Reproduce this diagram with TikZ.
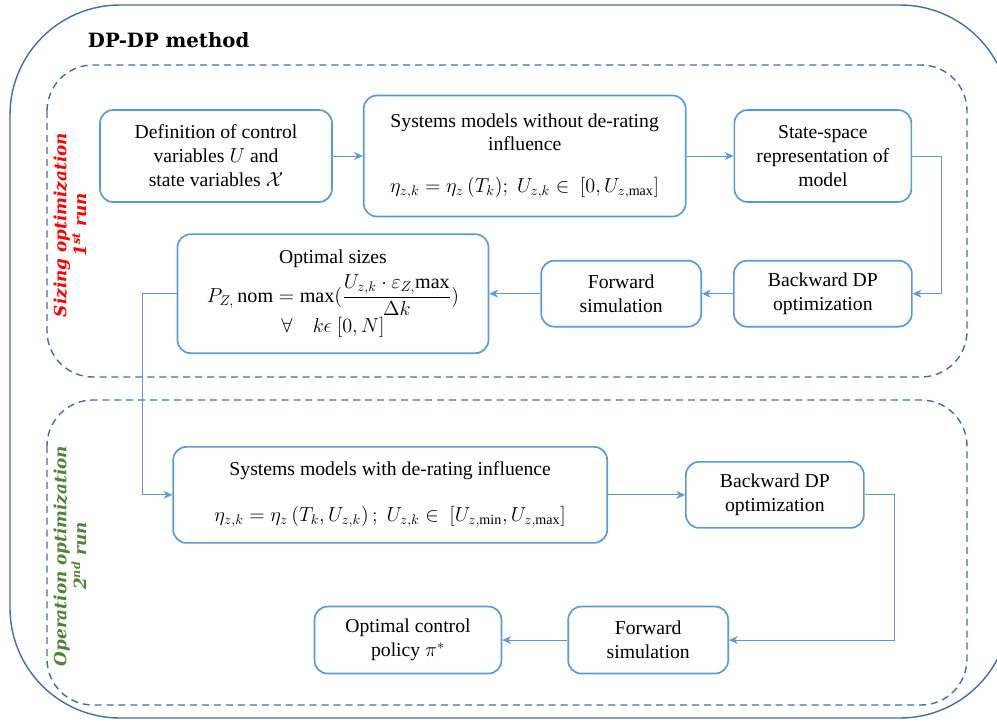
\documentclass[tikz,border=0pt]{standalone}
\usepackage{fontspec}
\setmainfont{Liberation Serif}
\newfontfamily\bodyfont{Liberation Serif}
\newfontfamily\slabfont{DejaVu Serif}
\usepackage{xcolor}
\usepackage{tikz}
\usetikzlibrary{positioning, arrows.meta}

\definecolor{boxblue}{HTML}{5B9BD5}
\definecolor{frameblue}{HTML}{41719C}
\definecolor{runred}{HTML}{FF0000}
\definecolor{rungreen}{HTML}{538135}

\newcommand{\eqsize}{\fontsize{14.3}{17}\selectfont}

\begin{document}
\begin{tikzpicture}[
    node distance=1cm and 1cm,
    box/.style={
        draw=boxblue,
        line width=1.2pt,
        rounded corners=0.33cm,
        fill=white,
        align=center,
        inner sep=2pt,
        font=\bodyfont\fontsize{14}{17}\selectfont
    },
    arrow/.style={-{Stealth[length=2.2mm,width=2mm]}, draw=boxblue, line width=0.6pt},
    frame/.style={draw=frameblue, line width=1pt, dash pattern=on 5pt off 3.5pt, rounded corners=1.15cm},
    runlbl/.style={rotate=90, align=center, font=\slabfont\bfseries\itshape\fontsize{12}{14}\selectfont}
]

\useasboundingbox (0,0) rectangle (24.925,-18.125);
\clip (0,0) rectangle (24.925,-18.125);

% Frames 
\draw[draw=frameblue, line width=1pt, rounded corners=2.75cm] (0.25,-0.125) rectangle (25.25,-17.95);
\draw[frame] (1.175,-1.625) rectangle (24.175,-9.425);
\draw[frame] (1.175,-10.0) rectangle (24.175,-17.625);

\node[anchor=west, font=\slabfont\bfseries\fontsize{14}{16}\selectfont] (title) at (2.075,-1.0) {DP-DP method};

\node[runlbl, text=runred] (sizinglbl) at (1.75,-5.625) {Sizing optimization\\1\textsuperscript{st} run};
\node[runlbl, text=rungreen] (operlbl) at (1.75,-13.9) {Operation optimization\\2\textsuperscript{nd} run};

% First run (sizing) 
\node[box, minimum width=5.8cm, minimum height=2.3cm] (def) at (5.4,-3.9) {Definition of control\\
variables {\eqsize$U$} and\\
state variables {\eqsize$\mathcal{X}$}};

\node[box, minimum width=8.05cm, minimum height=3.025cm] (sysA) [right=0.75cm of def] {Systems models without de-rating\\
influence\\[0.45cm]
{\eqsize$\eta_{z,k} = \eta_z\,(T_k);\; U_{z,k} \in\ [0, U_{z,\max}]$}};

\node[box, minimum width=4.425cm, minimum height=2.3cm] (state) [right=1.175cm of sysA] {State-space\\
representation of\\
model};

\node[box, minimum width=4.45cm, minimum height=1.65cm] (bwdA) [below=1.425cm of state] {Backward DP\\
optimization};

\node[box, minimum width=4.0cm, minimum height=1.65cm] (fwdA) [left=0.775cm of bwdA] {Forward\\
simulation};

\node[box, minimum width=7.775cm, minimum height=2.975cm] (optsize) [left=1.275cm of fwdA] {Optimal sizes\\[0.14cm]
{\eqsize$P_{Z,}\,\mathrm{nom} = \max(\displaystyle\frac{U_{z,k}\cdot\varepsilon_{Z,}\mathrm{max}}{\Delta k})$}\\
{\eqsize$\forall\quad k\epsilon\ [0,N]$}};

\draw[arrow] (def) -- (sysA);
\draw[arrow] (sysA) -- (state);
\draw[arrow] (state.east) -- ++(0.725,0) |- (bwdA.east);
\draw[arrow] (bwdA) -- (fwdA);
\draw[arrow] (fwdA) -- (optsize);

% Second run (operation) 
\node[box, minimum width=10.85cm, minimum height=2.4cm] (sysB) [below right=2.3cm and -7.925cm of optsize] {Systems models with de-rating influence\\[0.55cm]
{\eqsize$\eta_{z,k} = \eta_z\left(T_k, U_{z,k}\right);\; U_{z,k} \in\ [U_{z,\min}, U_{z,\max}]$}};

\node[box, minimum width=4.45cm, minimum height=1.65cm] (bwdB) [right=1.925cm of sysB] {Backward DP\\
optimization};

\node[box, minimum width=4.0cm, minimum height=1.675cm] (fwdB) [below left=1.925cm and -1.1cm of bwdB] {Forward\\
simulation};

\node[box, minimum width=4.675cm, minimum height=1.675cm] (policy) [left=1.625cm of fwdB] {Optimal control\\
policy {\eqsize$\pi^*$}};

\draw[arrow] (optsize.west) -- ++(-0.85,0) |- (sysB.west);
\draw[arrow] (sysB) -- (bwdB);
\draw[arrow] (bwdB.east) -- ++(0.75,0) |- (fwdB.east);
\draw[arrow] (fwdB) -- (policy);

\end{tikzpicture}
\end{document}
